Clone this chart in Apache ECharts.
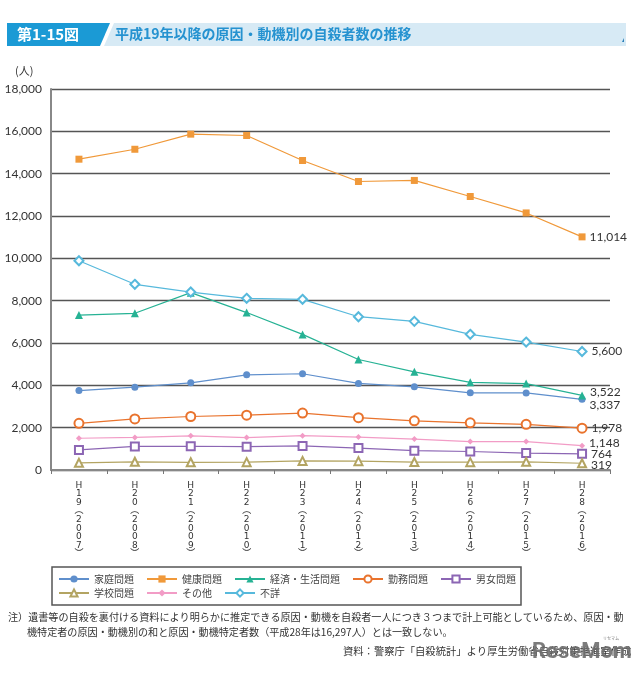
<!DOCTYPE html>
<html><head><meta charset="utf-8">
<script src="https://cdn.jsdelivr.net/npm/echarts@6/dist/echarts.min.js"></script>
<style>html,body{margin:0;padding:0;background:#fff}#c{width:640px;height:673px}</style>
</head><body><div id="c"></div>
<script>
const categories = ['H19（2007）','H20（2008）','H21（2009）','H22（2010）','H23（2011）','H24（2012）','H25（2013）','H26（2014）','H27（2015）','H28（2016）'];
const yTicks = [0,2000,4000,6000,8000,10000,12000,14000,16000,18000];
const kateiData  = [3751, 3912, 4117, 4497, 4547, 4091, 3930, 3644, 3641, 3337];
const kenkouData = [14684, 15153, 15867, 15802, 14621, 13629, 13680, 12920, 12145, 11014];
const keizaiData = [7318, 7404, 8377, 7438, 6406, 5219, 4636, 4144, 4082, 3522];
const kinmuData  = [2207, 2412, 2528, 2590, 2689, 2472, 2323, 2227, 2159, 1978];
const danjoData  = [949, 1115, 1121, 1103, 1138, 1035, 912, 875, 801, 764];
const gakkouData = [338, 387, 364, 371, 429, 417, 375, 372, 384, 319];
const sonotaData = [1500, 1538, 1613, 1533, 1621, 1555, 1462, 1342, 1342, 1148];
const fushouData = [9886, 8773, 8408, 8111, 8064, 7242, 7023, 6410, 6045, 5600];

const JP = '"Noto Sans CJK JP", "Noto Sans", sans-serif';
const NUM = 'Lato, "Noto Sans CJK JP", sans-serif';
const fmt = v => String(v).replace(/\B(?=(\d{3})+(?!\d))/g, ',');

function withEndLabel(arr, offY) {
  return arr.map((v, i) => i === arr.length - 1 ? {
    value: v,
    label: { show: true, position: 'right', distance: 4, offset: [0, offY], formatter: p => fmt(p.value),
      color: '#333', fontSize: 12, fontFamily: NUM }
  } : v);
}

function mk(name, data, color, symbol, size, offY, extra) {
  return Object.assign({
    name, type: 'line', data: withEndLabel(data, offY), symbol, symbolSize: size,
    lineStyle: { color, width: 1.2 },
    itemStyle: { color, borderColor: color, borderWidth: symbol.startsWith('empty') ? 2 : 0 },
    emphasis: { disabled: true }, animation: false, z: 3
  }, extra || {});
}

const chart = echarts.init(document.getElementById('c'), null, { renderer: 'canvas' });
chart.setOption({
  animation: false,
  grid: { left: 51, right: 30, top: 89, bottom: 203, containLabel: false },
  xAxis: {
    type: 'category', data: categories, boundaryGap: true,
    axisLine: { lineStyle: { color: '#888', width: 2 } },
    axisTick: { show: true, length: 4, lineStyle: { color: '#777', width: 1 } },
    axisLabel: {
      interval: 0, margin: 11, fontSize: 9, lineHeight: 8.6, color: '#333', fontFamily: '"DejaVu Sans", "Noto Sans CJK JP", sans-serif',
      formatter: v => v.replace('（', '︵').replace('）', '︶').split('').join('\n')
    }
  },
  yAxis: {
    type: 'value', min: yTicks[0], max: yTicks[yTicks.length - 1], interval: 2000,
    axisLine: { show: true, lineStyle: { color: '#888', width: 2 } },
    axisTick: { show: false },
    splitLine: { lineStyle: { color: '#555', width: 1.3 } },
    axisLabel: { margin: 9, fontSize: 12, color: '#333', fontFamily: NUM, formatter: v => fmt(v) }
  },
  legend: [
    { data: ['家庭問題','健康問題','経済・生活問題','勤務問題','男女問題'], left: 58, top: 574, padding: 0,
      itemWidth: 30, itemHeight: 9, itemGap: 12, textStyle: { fontSize: 10, color: '#444', fontFamily: JP } },
    { data: ['学校問題','その他','不詳'], left: 58, top: 588, padding: 0,
      itemWidth: 30, itemHeight: 9, itemGap: 12, textStyle: { fontSize: 10, color: '#444', fontFamily: JP } }
  ],
  series: [
    mk('家庭問題', kateiData, '#5f8fcc', 'circle', 7, 6),
    mk('健康問題', kenkouData, '#f0993a', 'rect', 7, 0),
    mk('経済・生活問題', keizaiData, '#26b294', 'triangle', 8, -3),
    mk('勤務問題', kinmuData, '#e9732d', 'emptyCircle', 9, 0),
    mk('男女問題', danjoData, '#8c66b4', 'emptyRect', 8, 0),
    mk('学校問題', gakkouData, '#b3a462', 'emptyTriangle', 8, 2),
    mk('その他', sonotaData, '#f29cc6', 'diamond', 6, -3),
    mk('不詳', fushouData, '#57b9dc', 'emptyDiamond', 9, 0)
  ],
  graphic: [
    { type: 'polygon', shape: { points: [[7,23],[110,23],[100,46],[7,46]] }, style: { fill: '#1b9ad5' } },
    { type: 'polygon', shape: { points: [[114,23],[626,23],[626,46],[104,46]] }, style: { fill: '#d7eaf5' } },
    { type: 'polygon', shape: { points: [[622,42],[624,38],[624,42]] }, style: { fill: '#2a7fb8' } },
    { type: 'text', left: 17, top: 27, style: { text: '第1-15図', fill: '#fff', font: 'bold 15px ' + JP } },
    { type: 'text', left: 115, top: 27, style: { text: '平成19年以降の原因・動機別の自殺者数の推移', fill: '#2592d0', font: 'bold 14px ' + JP } },
    { type: 'text', left: 15, top: 65, style: { text: '(人)', fill: '#333', font: '11px ' + JP } },
    { type: 'rect', shape: { x: 52, y: 567, width: 469, height: 38 }, style: { fill: 'none', stroke: '#555', lineWidth: 1.5 }, z: -1 },
    { type: 'text', left: 8, top: 612, style: { text: '注）遺書等の自殺を裏付ける資料により明らかに推定できる原因・動機を自殺者一人につき３つまで計上可能としているため、原因・動', fill: '#333', font: '10.1px ' + JP } },
    { type: 'text', left: 27, top: 627, style: { text: '機特定者の原因・動機別の和と原因・動機特定者数（平成28年は16,297人）とは一致しない。', fill: '#333', font: '10.1px ' + JP } },
    { type: 'text', left: 343, top: 646, style: { text: '資料：警察庁「自殺統計」より厚生労働省自殺対策推進室作成', fill: '#333', font: '10.3px ' + JP } },
    { type: 'text', left: 532, top: 641, style: { text: 'ReseMom', fill: 'rgba(110,110,110,0.9)', font: 'bold 22px Roboto, sans-serif' }, z: 10 },
    { type: 'text', left: 603, top: 636, style: { text: 'リセマム', fill: 'rgba(110,110,110,0.9)', font: '4px ' + JP }, z: 10 }
  ]
});
</script></body></html>
